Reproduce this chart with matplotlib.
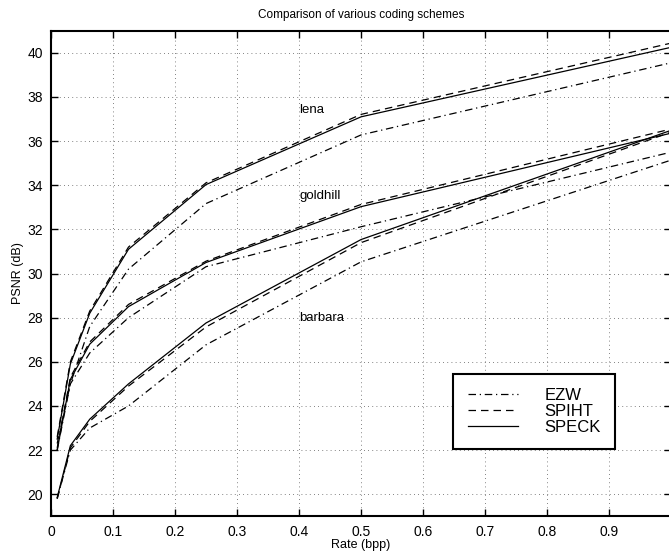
import numpy as np
import matplotlib.pyplot as plt

plt.rcParams['font.family'] = ['Liberation Sans', 'DejaVu Sans']

# bit rates (bpp)
rate = [0.01, 0.03125, 0.0625, 0.125, 0.25, 0.5, 1.0]

# PSNR (dB)
lena_ezw = [22.3, 25.0, 27.6, 30.2, 33.17, 36.28, 39.55]
lena_spiht = [22.6, 26.0, 28.3, 31.2, 34.11, 37.21, 40.44]
lena_speck = [22.5, 25.9, 28.2, 31.1, 34.03, 37.10, 40.25]

goldhill_ezw = [22.0, 25.0, 26.4, 28.0, 30.31, 32.12, 35.5]
goldhill_spiht = [22.1, 25.3, 26.9, 28.6, 30.56, 33.13, 36.55]
goldhill_speck = [22.0, 25.2, 26.8, 28.5, 30.50, 33.03, 36.36]

barbara_ezw = [19.8, 22.0, 23.0, 24.0, 26.77, 30.53, 35.14]
barbara_spiht = [19.8, 22.1, 23.3, 24.9, 27.58, 31.40, 36.41]
barbara_speck = [19.85, 22.2, 23.4, 25.0, 27.76, 31.54, 36.49]

image_names = ["lena", "goldhill", "barbara"]
label_pos = [37.4, 33.5, 28.0]

fig = plt.figure(figsize=(6.69, 5.54), dpi=100)
ax = fig.add_axes([0.0762, 0.068, 0.927, 0.8765])

ezw_style = dict(color='k', lw=0.9, dashes=(6, 3, 1, 3))
spiht_style = dict(color='k', lw=0.9, dashes=(6, 4))
speck_style = dict(color='k', lw=0.9, linestyle='-')

ax.plot(rate, lena_ezw, label='EZW', **ezw_style)
ax.plot(rate, lena_spiht, label='SPIHT', **spiht_style)
ax.plot(rate, lena_speck, label='SPECK', **speck_style)
ax.plot(rate, goldhill_ezw, **ezw_style)
ax.plot(rate, goldhill_spiht, **spiht_style)
ax.plot(rate, goldhill_speck, **speck_style)
ax.plot(rate, barbara_ezw, **ezw_style)
ax.plot(rate, barbara_spiht, **spiht_style)
ax.plot(rate, barbara_speck, **speck_style)

for name, yp in zip(image_names, label_pos):
    ax.text(0.4, yp, name, fontsize=9.5, va='center', ha='left')

ax.set_xlim(0, 1)
ax.set_ylim(19, 41)
ax.set_xticks(np.arange(0, 1.0, 0.1))
ax.set_xticklabels(['0', '0.1', '0.2', '0.3', '0.4', '0.5', '0.6', '0.7', '0.8', '0.9'])
ax.set_yticks(np.arange(20, 41, 2))
ax.tick_params(direction='in', top=True, right=True, length=5, width=1,
               labelsize=10, pad=6)
ax.grid(True, color='0.35', linestyle=(0, (1, 4)), linewidth=0.6)
for s in ax.spines.values():
    s.set_linewidth(1.5)

ax.set_xlabel('Rate (bpp)', fontsize=9, labelpad=0)
ax.set_ylabel('PSNR (dB)', fontsize=9, labelpad=2)
ax.set_title('Comparison of various coding schemes', fontsize=8.5, pad=9)

leg = ax.legend(loc='upper left', bbox_to_anchor=(0.649, 0.293), fontsize=12,
                handlelength=3.0, handletextpad=1.6, labelspacing=0.05,
                fancybox=False, framealpha=1, borderpad=0.85, borderaxespad=0)
leg.get_frame().set_edgecolor('k')
leg.get_frame().set_linewidth(1.5)

fig.savefig('out.png', dpi=100)
